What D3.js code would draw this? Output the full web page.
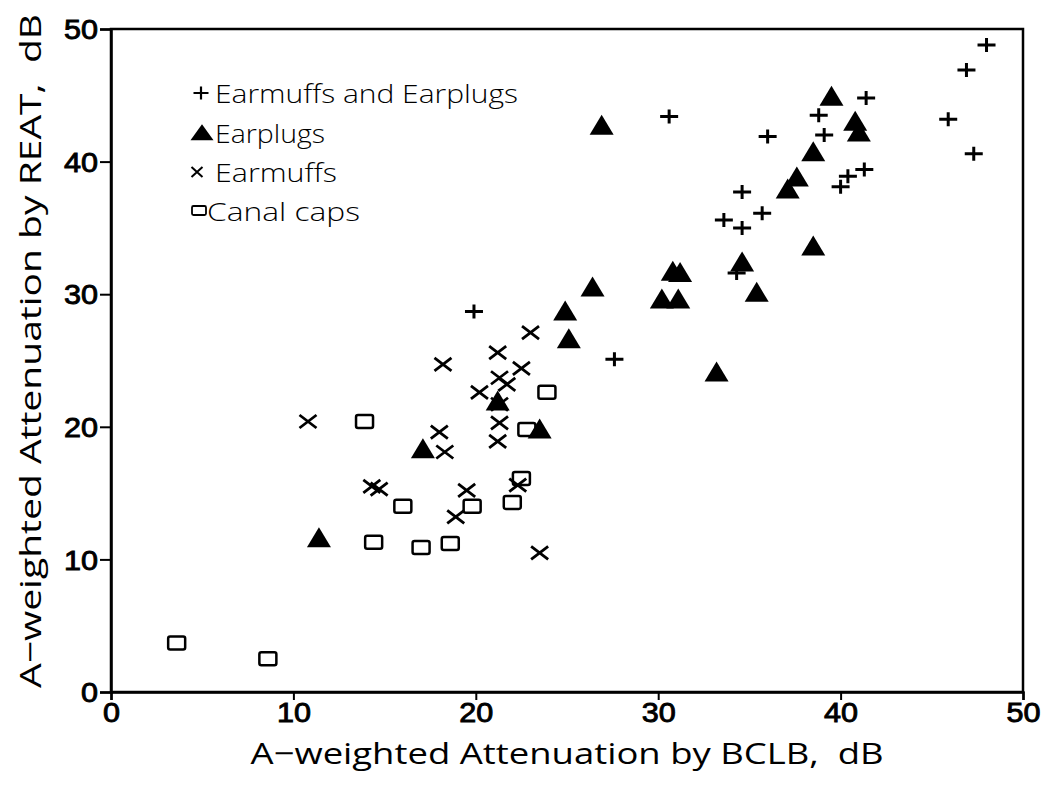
<!DOCTYPE html>
<html>
<head>
<meta charset="utf-8">
<script src="https://cdn.jsdelivr.net/npm/d3@7"></script>
<style>
  html, body { margin: 0; padding: 0; background: #fff; }
  svg { display: block; }
  .title, .legend-text { font-family: 'Open Sans', 'DejaVu Sans', sans-serif; fill: #000; white-space: pre; }
  .title { font-weight: 400; }
  .legend-text { font-weight: 300; }
</style>
</head>
<body>
<svg id="chart" width="1050" height="788"></svg>
<script>
// A-weighted attenuation: BCLB (x) vs REAT (y), in dB, by protector type
const bothDevices = [
  [48.0, 48.8], [46.9, 46.9], [41.4, 44.8], [30.6, 43.4], [38.8, 43.5], [45.9, 43.2],
  [36.0, 41.9], [39.1, 42.0], [47.3, 40.6], [41.3, 39.4], [40.4, 38.9], [40.0, 38.1],
  [34.6, 37.7], [35.7, 36.1], [33.6, 35.6], [34.6, 35.0], [34.3, 31.6], [19.9, 28.7],
  [27.6, 25.1]
];
const earplugs = [
  [39.5, 44.9], [26.9, 42.7], [40.8, 43.0], [41.0, 42.2], [38.5, 40.7], [37.6, 38.8],
  [37.1, 37.9], [38.5, 33.6], [34.6, 32.4], [35.4, 30.1], [30.8, 31.7], [31.2, 31.6],
  [30.2, 29.6], [31.1, 29.6], [26.4, 30.5], [24.9, 28.7], [25.1, 26.6], [33.2, 24.1],
  [21.2, 21.9], [23.5, 19.8], [17.1, 18.3], [11.4, 11.6]
];
const earmuffs = [
  [23.0, 27.1], [21.2, 25.6], [18.2, 24.7], [22.5, 24.4], [21.3, 23.7], [21.7, 23.2],
  [20.2, 22.6], [21.3, 21.7], [10.8, 20.4], [21.3, 20.3], [18.0, 19.6], [21.2, 18.9],
  [18.3, 18.1], [14.3, 15.5], [14.7, 15.3], [19.5, 15.2], [22.3, 15.6], [18.9, 13.2],
  [23.5, 10.5]
];
const canalCaps = [
  [23.9, 22.6], [13.9, 20.4], [22.8, 19.8], [22.5, 16.1], [16.0, 14.0], [19.8, 14.0],
  [22.0, 14.3], [14.4, 11.3], [17.0, 10.9], [18.6, 11.2], [3.6, 3.7], [8.6, 2.5]
];
const tickValues = [0, 10, 20, 30, 40, 50];
const legendLabels = ["Earmuffs and Earplugs", "Earplugs", "Earmuffs", "Canal caps"];
const xTitle = "A\u2212weighted Attenuation by BCLB,  dB";
const yTitle = "A\u2212weighted Attenuation by REAT,  dB";

const svg = d3.select("#chart");
const x = d3.scaleLinear().domain([0, 50]).range([111, 1023]);
const y = d3.scaleLinear().domain([0, 50]).range([692, 29]);

// marker path generators
function plusPath(w, h) {
  return `M${-w/2},0H${w/2}M0,${-h/2}V${h/2}`;
}
function crossPath(w, h) {
  return `M${-w/2},${-h/2}L${w/2},${h/2}M${-w/2},${h/2}L${w/2},${-h/2}`;
}
function trianglePath(w, h) {
  return `M0,${-h*0.55}L${w/2},${h*0.45}L${-w/2},${h*0.45}Z`;
}

// frame
svg.append("rect")
  .attr("x", x(0)).attr("y", y(50))
  .attr("width", x(50) - x(0)).attr("height", y(0) - y(50))
  .attr("fill", "none").attr("stroke", "#000").attr("stroke-width", 2.5);

// axes
const yAxis = svg.append("g")
  .attr("transform", `translate(${x(0)},0)`)
  .call(d3.axisLeft(y).tickValues(tickValues).tickSize(11).tickPadding(2).tickFormat(d3.format("d")));
const xAxis = svg.append("g")
  .attr("transform", `translate(0,${y(0)})`)
  .call(d3.axisBottom(x).tickValues(tickValues).tickSize(8).tickPadding(3).tickFormat(d3.format("d")));
[xAxis, yAxis].forEach(g => {
  g.attr("font-family", "'Liberation Sans', Arial, sans-serif").attr("font-size", 27);
  g.select(".domain").attr("stroke", "#000").attr("stroke-width", 2.5);
  g.selectAll(".tick line").attr("stroke", "#000").attr("stroke-width", 2);
  // wide, heavy digits
  g.selectAll(".tick text")
    .attr("fill", "#000").attr("stroke", "#000").attr("stroke-width", 0.9)
    .attr("textLength", d => String(d).length * 17)
    .attr("lengthAdjust", "spacingAndGlyphs");
});
yAxis.selectAll(".tick text").attr("dy", "0.36em");

// data marks
const marks = svg.append("g");
marks.selectAll("path.both").data(bothDevices).join("path")
  .attr("class", "both")
  .attr("transform", d => `translate(${x(d[0])},${y(d[1])})`)
  .attr("d", plusPath(18, 14))
  .attr("fill", "none").attr("stroke", "#000").attr("stroke-width", 3);
marks.selectAll("path.plug").data(earplugs).join("path")
  .attr("class", "plug")
  .attr("transform", d => `translate(${x(d[0])},${y(d[1])})`)
  .attr("d", trianglePath(24, 20))
  .attr("fill", "#000");
marks.selectAll("path.muff").data(earmuffs).join("path")
  .attr("class", "muff")
  .attr("transform", d => `translate(${x(d[0])},${y(d[1])})`)
  .attr("d", crossPath(17, 13))
  .attr("fill", "none").attr("stroke", "#000").attr("stroke-width", 2.8);
marks.selectAll("rect.cap").data(canalCaps).join("rect")
  .attr("class", "cap")
  .attr("x", d => x(d[0]) - 8.5).attr("y", d => y(d[1]) - 6.5)
  .attr("width", 17).attr("height", 13).attr("rx", 2)
  .attr("fill", "none").attr("stroke", "#000").attr("stroke-width", 2.5);

// legend
const legend = svg.append("g");
const legendY = [93, 133, 172, 211];
const legendTextX = [215, 215, 215, 207];
const legendWidths = [303, 110, 122, 153];
legend.append("path").attr("transform", `translate(201,${legendY[0]})`)
  .attr("d", plusPath(15, 13)).attr("stroke", "#000").attr("stroke-width", 2.2).attr("fill", "none");
legend.append("path").attr("transform", `translate(202,${legendY[1]})`)
  .attr("d", trianglePath(23, 16)).attr("fill", "#000");
legend.append("path").attr("transform", `translate(197,${legendY[2]})`)
  .attr("d", crossPath(11, 10)).attr("stroke", "#000").attr("stroke-width", 2).attr("fill", "none");
legend.append("rect").attr("x", 192).attr("y", legendY[3] - 5).attr("width", 14).attr("height", 9).attr("rx", 1.5)
  .attr("stroke", "#000").attr("stroke-width", 1.8).attr("fill", "none");
legend.selectAll("text").data(legendLabels).join("text")
  .attr("class", "legend-text")
  .attr("x", (d, i) => legendTextX[i])
  .attr("y", (d, i) => legendY[i] + 10)
  .attr("font-size", 26)
  .attr("textLength", (d, i) => legendWidths[i])
  .attr("lengthAdjust", "spacingAndGlyphs")
  .text(d => d);

// axis titles
svg.append("text").attr("class", "title")
  .attr("x", 567).attr("y", 764)
  .attr("text-anchor", "middle").attr("font-size", 30)
  .attr("textLength", 633).attr("lengthAdjust", "spacingAndGlyphs")
  .text(xTitle);
svg.append("text").attr("class", "title")
  .attr("transform", "translate(41,351) rotate(-90)")
  .attr("text-anchor", "middle").attr("font-size", 30)
  .attr("textLength", 674).attr("lengthAdjust", "spacingAndGlyphs")
  .text(yTitle);
</script>
</body>
</html>
